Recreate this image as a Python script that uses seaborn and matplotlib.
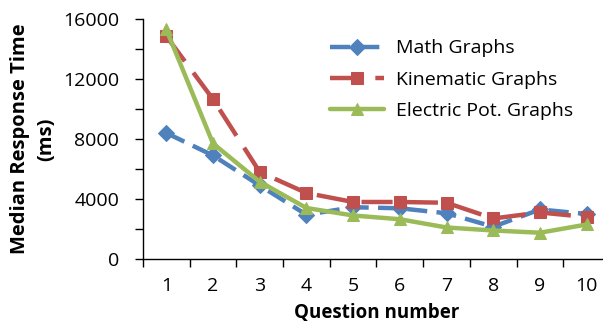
import numpy as np
import pandas as pd
import matplotlib
matplotlib.use("Agg")
import matplotlib.pyplot as plt
import seaborn as sns

questions = [1, 2, 3, 4, 5, 6, 7, 8, 9, 10]
math_graphs = [8400, 6900, 4900, 2950, 3450, 3380, 3050, 2150, 3300, 3000]
kinematic_graphs = [14850, 10650, 5800, 4400, 3800, 3800, 3750, 2700, 3100, 2800]
electric_graphs = [15300, 7700, 5150, 3400, 2900, 2650, 2100, 1900, 1750, 2300]

sns.set_style("white")
plt.rcParams['font.family'] = ['Open Sans', 'DejaVu Sans']
plt.rcParams['text.color'] = 'black'
plt.rcParams['axes.labelcolor'] = 'black'
plt.rcParams['xtick.color'] = 'black'
plt.rcParams['ytick.color'] = 'black'

fig, ax = plt.subplots(figsize=(6.03, 3.27), dpi=100)
fig.subplots_adjust(left=0.2371, right=1.0116, top=0.9419, bottom=0.208)

series = [
    ("Math Graphs", math_graphs, "#4F81BD", "D", (4.5, 2.1)),
    ("Kinematic Graphs", kinematic_graphs, "#C0504D", "s", (7, 3.2)),
    ("Electric Pot. Graphs", electric_graphs, "#9BBB59", "^", None),
]
for name, vals, color, marker, dash in series:
    df = pd.DataFrame({"q": questions, "t": vals})
    sns.lineplot(data=df, x="q", y="t", ax=ax, color=color, marker=marker,
                 markersize=8.5, markeredgecolor=color, linewidth=3.2, label=name,
                 dashes=False)
    line = ax.get_lines()[-1]
    if dash is not None:
        line.set_dashes(dash)

ax.set_xlim(0.5, 10.5)
ax.set_ylim(0, 16000)
ax.set_yticks(np.arange(0, 16001, 2000))
ax.set_yticklabels([str(v) if v % 4000 == 0 else "" for v in range(0, 16001, 2000)])
ax.set_xticks(np.arange(0.5, 10.6, 1))
ax.set_xticklabels([])
ax.set_xticks(questions, minor=True)
ax.set_xticklabels([str(q) for q in questions], minor=True)
ax.tick_params(axis="x", which="major", direction="out", length=6, width=1, color="black", bottom=True)
ax.tick_params(axis="x", which="minor", length=0, pad=13, labelsize=14, labelcolor="black")
ax.tick_params(axis="y", direction="out", length=6, width=1, color="black", left=True, labelsize=14, pad=11, labelcolor="black")

for s in ["top", "right"]:
    ax.spines[s].set_visible(False)
for s in ["left", "bottom"]:
    ax.spines[s].set_color("black")
    ax.spines[s].set_linewidth(1)

ax.set_xlabel("Question number", fontsize=13.5, fontweight="bold", labelpad=6)
ax.set_ylabel("Median Response Time\n(ms)", fontsize=14.5, fontweight="bold", labelpad=5, linespacing=1.4)

leg = ax.legend(loc="upper left", bbox_to_anchor=(0.40, 0.915), frameon=False, fontsize=14,
                handlelength=2.8, labelspacing=0.68, handletextpad=0.6,
                borderpad=0, borderaxespad=0)

fig.savefig("out.png", dpi=100)
